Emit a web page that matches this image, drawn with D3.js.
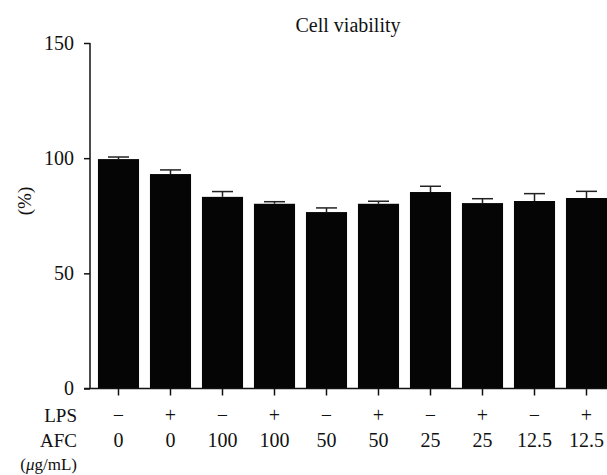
<!DOCTYPE html>
<html>
<head>
<meta charset="utf-8">
<script src="https://cdn.jsdelivr.net/npm/d3@7"></script>
<style>
  body { margin: 0; background: #fff; }
  text { font-family: "Liberation Serif", "DejaVu Serif", serif; fill: #111; }
</style>
</head>
<body>
<div id="chart-area"></div>
<script>
// data
var lps = ["−", "+", "−", "+", "−", "+", "−", "+", "−", "+"]
var afc = ["0", "0", "100", "100", "50", "50", "25", "25", "12.5", "12.5"]
var viability = [99.6, 93.1, 83.2, 80.2, 76.6, 80.2, 85.3, 80.5, 81.4, 82.7]
var errors = [0.9, 1.8, 2.3, 0.9, 1.8, 1.1, 2.5, 1.9, 3.2, 2.9]
var yTicks = [0, 50, 100, 150]

var width = 607
var height = 475

var svg = d3.select("#chart-area")
  .append("svg")
  .attr("width", width)
  .attr("height", height)

var data = viability.map(function(v, i) {
  return { id: i, lps: lps[i], afc: afc[i], value: v, err: errors[i] }
})

var x = d3.scaleBand()
  .domain(data.map(d => d.id))
  .range([90, 615])
  .paddingInner(0.21)
  .paddingOuter(0.153)

var y = d3.scaleLinear()
  .domain([0, 150])
  .range([388.5, 43])

// title
svg.append("text")
  .text("Cell viability")
  .attr("x", 348)
  .attr("y", 32)
  .attr("text-anchor", "middle")
  .attr("font-size", "20px")

// y label
svg.append("text")
  .text("(%)")
  .attr("transform", "translate(31,201) rotate(-90)")
  .attr("text-anchor", "middle")
  .attr("font-size", "19px")

// bars
svg.selectAll("rect.bar")
  .data(data)
  .enter()
  .append("rect")
  .attr("class", "bar")
  .attr("x", d => x(d.id))
  .attr("y", d => y(d.value))
  .attr("width", x.bandwidth())
  .attr("height", d => y(0) - y(d.value))
  .attr("fill", "#050505")

// error bars (upper only)
var eb = svg.selectAll("g.err")
  .data(data)
  .enter()
  .append("g")
  .attr("class", "err")
  .attr("stroke", "#222")
  .attr("stroke-width", 1.5)

eb.append("line")
  .attr("x1", d => x(d.id) + x.bandwidth() / 2)
  .attr("x2", d => x(d.id) + x.bandwidth() / 2)
  .attr("y1", d => y(d.value))
  .attr("y2", d => y(d.value + d.err))

eb.append("line")
  .attr("x1", d => x(d.id) + x.bandwidth() / 2 - 10.5)
  .attr("x2", d => x(d.id) + x.bandwidth() / 2 + 10.5)
  .attr("y1", d => y(d.value + d.err))
  .attr("y2", d => y(d.value + d.err))

// y axis
var yAxisCall = d3.axisLeft(y)
  .tickValues(yTicks)
  .tickSize(6)
  .tickPadding(10)

var yAxis = svg.append("g")
  .attr("transform", "translate(90,0)")
  .call(yAxisCall)
yAxis.select(".domain").attr("stroke", "#111").attr("stroke-width", 1.5).attr("d", "M0," + y(0) + "V" + y(150))
yAxis.selectAll(".tick line").attr("stroke", "#111").attr("stroke-width", 1.5)
yAxis.selectAll(".tick text")
  .attr("font-size", "20px")
  .attr("fill", "#111")

// x axis
var xAxisCall = d3.axisBottom(x)
  .tickSize(7)
  .tickFormat("")

var xAxis = svg.append("g")
  .attr("transform", "translate(0," + y(0) + ")")
  .call(xAxisCall)
xAxis.select(".domain").attr("stroke", "#111").attr("stroke-width", 1.5).attr("d", "M84,0H607")
xAxis.selectAll(".tick line").attr("stroke", "#111").attr("stroke-width", 1.5)

// row labels under the axis
svg.append("text").text("LPS")
  .attr("x", 77).attr("y", 422)
  .attr("text-anchor", "end").attr("font-size", "19px")
svg.append("text").text("AFC")
  .attr("x", 77).attr("y", 447)
  .attr("text-anchor", "end").attr("font-size", "19px")
var unit = svg.append("text")
  .attr("x", 77).attr("y", 470)
  .attr("text-anchor", "end").attr("font-size", "17px")
unit.append("tspan").text("(")
unit.append("tspan").text("μ").attr("font-style", "italic")
unit.append("tspan").text("g/mL)")

svg.selectAll("text.lps")
  .data(data)
  .enter()
  .append("text")
  .attr("class", "lps")
  .text(d => d.lps)
  .attr("x", d => x(d.id) + x.bandwidth() / 2)
  .attr("y", 422)
  .attr("text-anchor", "middle")
  .attr("font-size", "20px")

svg.selectAll("text.afc")
  .data(data)
  .enter()
  .append("text")
  .attr("class", "afc")
  .text(d => d.afc)
  .attr("x", d => x(d.id) + x.bandwidth() / 2)
  .attr("y", 447)
  .attr("text-anchor", "middle")
  .attr("font-size", "20px")
</script>
</body>
</html>
